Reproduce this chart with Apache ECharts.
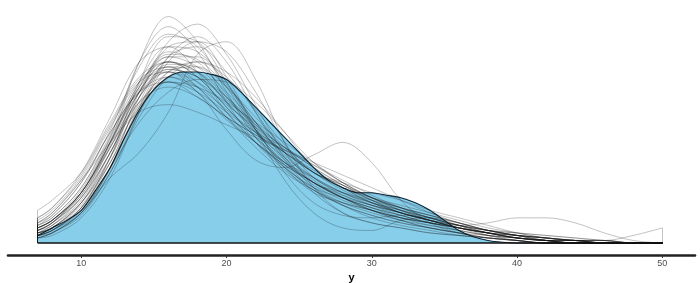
<!DOCTYPE html>
<html><head><meta charset="utf-8">
<script src="https://cdn.jsdelivr.net/npm/echarts@6/dist/echarts.min.js"></script>
<style>html,body{margin:0;padding:0;background:#fff}#c{width:700px;height:283px}</style>
</head><body><div id="c"></div>
<script>
// observed density (y), evaluated at X_OBS
const X_OBS = [7,8,9,10,11,12,13,14,15,16,17,18,19,20,21,22,23,24,25,26,27,28,29,30,31,32,33,34,35,36,37,38,39,40,41,42,43,44,45,46,47,48,49,50];
const Y_OBS = [.003,.006,.009,.013,.021,.030,.042,.053,.061,.066,.068,.068,.067,.065,.060,.054,.048,.042,.036,.030,.025,.022,.020,.020,.019,.018,.016,.013,.009,.005,.0025,.001,.0003,0,0,0,0,0,0,0,0,0,0,0];
// replicated densities (yrep), evaluated at X_REP
const X_REP = [7,8,10,12,14,16,18,20,22,24,26,28,30,32,34,36,38,40,42,44,46,48,50];
const YREP = [
 [.006,.009,.020,.040,.072,.090,.080,.060,.042,.030,.022,.018,.015,.012,.009,.006,.004,.002,.001,.001,0,0,0],
 [.004,.006,.016,.034,.060,.080,.087,.075,.055,.036,.026,.019,.015,.012,.009,.006,.003,.002,.001,0,0,0,0],
 [.008,.011,.024,.045,.070,.083,.078,.062,.045,.031,.021,.015,.011,.008,.006,.004,.003,.002,.001,.001,0,0,0],
 [.003,.005,.012,.028,.052,.072,.080,.076,.060,.040,.026,.020,.016,.013,.010,.007,.004,.002,.001,0,0,0,0],
 [.010,.014,.028,.050,.072,.078,.068,.052,.040,.031,.024,.018,.013,.009,.006,.004,.002,.001,0,0,0,0,0],
 [.006,.009,.019,.038,.060,.074,.074,.063,.048,.034,.024,.020,.017,.014,.011,.008,.005,.003,.001,0,0,0,0],
 [.005,.007,.016,.032,.052,.068,.072,.066,.053,.039,.028,.024,.020,.017,.013,.010,.007,.004,.002,.001,0,0,0],
 [.004,.006,.015,.032,.055,.066,.060,.045,.033,.030,.035,.040,.032,.017,.008,.004,.002,.001,0,0,0,0,0],
 [.002,.004,.012,.030,.058,.078,.080,.066,.045,.025,.012,.006,.005,.009,.010,.007,.003,.001,0,0,0,0,0],
 [.003,.004,.012,.026,.036,.052,.075,.080,.065,.040,.022,.012,.008,.006,.004,.003,.002,.001,0,0,0,0,0],
 [.008,.012,.025,.040,.052,.055,.052,.047,.042,.037,.032,.027,.022,.017,.012,.008,.005,.003,.002,.001,0,0,0],
 [.005,.008,.018,.036,.058,.068,.062,.050,.038,.028,.021,.016,.013,.010,.008,.007,.008,.010,.010,.008,.004,.001,0],
 [.006,.009,.020,.040,.062,.070,.064,.052,.040,.030,.022,.016,.012,.009,.007,.005,.003,.002,.001,.001,.001,.003,.006],
 [.013,.017,.028,.048,.066,.072,.066,.054,.042,.032,.024,.018,.013,.009,.006,.004,.002,.001,0,0,0,0,0],
 [.002,.003,.010,.026,.052,.074,.082,.072,.052,.034,.022,.015,.010,.007,.005,.003,.002,.001,0,0,0,0,0],
 [.004,.006,.014,.030,.048,.060,.065,.064,.056,.044,.032,.024,.018,.014,.011,.008,.005,.003,.001,0,0,0,0],
 [.007,.010,.022,.042,.063,.074,.070,.058,.044,.032,.023,.017,.013,.010,.008,.006,.004,.003,.002,.001,.001,0,0],
 [.003,.005,.014,.034,.058,.070,.068,.058,.046,.036,.028,.022,.017,.013,.010,.007,.004,.002,.001,0,0,0,0],
 [.005,.008,.018,.036,.056,.064,.060,.052,.044,.038,.031,.024,.018,.013,.009,.006,.004,.002,.001,.001,0,0,0],
 [.009,.013,.026,.046,.064,.068,.060,.049,.040,.032,.026,.020,.015,.011,.008,.006,.004,.003,.002,.001,0,0,0],
 [.003,.005,.014,.034,.064,.082,.080,.064,.045,.030,.020,.016,.013,.010,.008,.005,.003,.001,0,0,0,0,0],
 [.004,.007,.018,.038,.060,.072,.068,.056,.044,.034,.026,.020,.016,.013,.010,.007,.005,.003,.002,.001,0,0,0],
 [.006,.009,.020,.040,.062,.075,.073,.062,.048,.033,.020,.012,.008,.006,.004,.003,.002,.001,0,0,0,0,0],
 [.002,.004,.012,.030,.054,.068,.070,.062,.050,.038,.028,.022,.018,.015,.012,.009,.006,.004,.002,.001,.001,0,0],
 [.007,.011,.024,.044,.060,.064,.058,.050,.043,.036,.029,.022,.016,.012,.009,.007,.005,.003,.002,.001,0,0,0],
 [.005,.008,.020,.042,.072,.086,.076,.056,.040,.029,.021,.015,.011,.008,.006,.004,.002,.001,0,0,0,0,0],
 [.004,.006,.016,.034,.054,.064,.062,.056,.048,.040,.032,.024,.018,.013,.009,.006,.004,.003,.002,.001,.001,0,0],
 [.006,.009,.021,.041,.061,.069,.066,.058,.047,.035,.025,.018,.013,.010,.008,.006,.004,.002,.001,.001,0,0,0],
 [.003,.005,.013,.030,.054,.074,.078,.068,.052,.036,.024,.018,.014,.011,.008,.006,.004,.002,.001,0,0,0,0],
 [.005,.008,.020,.040,.064,.078,.076,.064,.046,.028,.016,.011,.010,.011,.010,.008,.005,.003,.001,0,0,0,0],
 [.008,.012,.025,.044,.060,.066,.062,.053,.044,.036,.028,.021,.016,.012,.009,.007,.005,.004,.003,.002,.001,0,0],
 [.004,.006,.016,.036,.060,.072,.068,.056,.045,.036,.028,.023,.018,.014,.010,.007,.004,.002,.001,0,0,0,0],
 [.006,.009,.020,.038,.056,.062,.058,.050,.043,.037,.031,.025,.019,.014,.010,.007,.005,.003,.002,.001,0,0,0],
 [.003,.005,.014,.032,.056,.071,.070,.060,.048,.037,.028,.023,.018,.014,.011,.008,.005,.003,.001,.001,0,0,0],
 [.010,.014,.027,.047,.065,.070,.062,.050,.040,.031,.024,.018,.014,.010,.007,.005,.003,.002,.001,0,0,0,0],
 [.004,.007,.017,.036,.058,.069,.066,.057,.047,.038,.030,.023,.017,.012,.009,.007,.005,.004,.003,.002,.001,0,0],
 [.005,.008,.019,.039,.062,.076,.072,.059,.045,.033,.024,.019,.015,.012,.009,.006,.004,.002,.001,0,0,0,0],
 [.007,.010,.022,.043,.064,.072,.066,.054,.042,.032,.024,.018,.014,.011,.008,.006,.004,.002,.001,0,0,0,0],
 [.002,.004,.011,.028,.050,.066,.072,.068,.058,.044,.030,.022,.016,.012,.009,.006,.004,.002,.001,0,0,0,0],
 [.006,.009,.020,.040,.060,.068,.064,.055,.046,.038,.030,.023,.017,.012,.009,.006,.004,.003,.002,.001,.001,0,0]
];
const X_TICKS = [10,20,30,40,50];
const X_TITLE = 'y';

const zip = (xs, ys) => xs.map((x, i) => [x, ys[i]]);
const xFirst = X_REP[0], xLast = X_REP[X_REP.length - 1];
const GRAY = 'rgba(20,20,20,0.32)';

const series = [];
series.push({
  type: 'line', data: zip(X_OBS, Y_OBS), smooth: 0.3, symbol: 'none', z: 1,
  lineStyle: { color: '#0b2233', width: 1.1 },
  areaStyle: { color: '#87ceeb', opacity: 1, origin: 0 }
});
YREP.forEach(c => series.push({
  type: 'line', data: zip(X_REP, c), smooth: 0.35, symbol: 'none', z: 2,
  lineStyle: { color: GRAY, width: 0.8 }, silent: true
}));
// vertical closing edges of the replicated density outlines
const edges = [];
YREP.forEach(c => {
  edges.push({ coords: [[xFirst, 0], [xFirst, c[0]]] });
  edges.push({ coords: [[xLast, 0], [xLast, c[c.length - 1]]] });
});
series.push({
  type: 'lines', coordinateSystem: 'cartesian2d', data: edges, z: 2,
  lineStyle: { color: GRAY, width: 0.8, opacity: 1 }, silent: true
});
// common baseline of the outlines
series.push({
  type: 'line', data: [[xFirst, 0], [xLast, 0]], symbol: 'none', z: 3,
  lineStyle: { color: '#111', width: 1.6 }
});

const chart = echarts.init(document.getElementById('c'), null, { renderer: 'canvas' });
chart.setOption({
  animation: false,
  backgroundColor: '#fff',
  grid: { left: 8, right: 5, top: 3, bottom: 28, outerBoundsMode: 'none', containLabel: false },
  xAxis: {
    type: 'value', min: 4.96, max: 52.25,
    name: X_TITLE, nameLocation: 'middle', nameGap: 17,
    nameTextStyle: { fontFamily: 'Liberation Sans', fontWeight: 'bold', fontSize: 11, color: '#000' },
    axisLine: { show: true, onZero: false, lineStyle: { color: '#222', width: 2.6 } },
    axisTick: { show: true, length: 3, customValues: X_TICKS, lineStyle: { color: '#333', width: 1 } },
    axisLabel: { customValues: X_TICKS, fontFamily: 'Liberation Sans', fontSize: 9, color: '#4d4d4d', margin: 4 },
    splitLine: { show: false }
  },
  yAxis: {
    type: 'value', min: -0.00477, max: 0.0954, show: false, splitLine: { show: false }
  },
  series
});
</script></body></html>
